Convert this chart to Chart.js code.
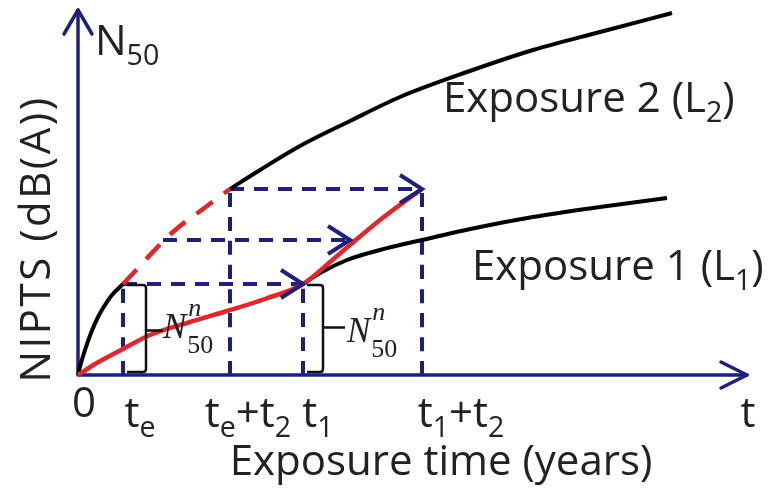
<!DOCTYPE html>
<html>
<head>
<meta charset="utf-8">
<script src="https://cdn.jsdelivr.net/npm/chart.js@4.4.1/dist/chart.umd.min.js"></script>
<style>
  html, body { margin: 0; background: #fff; }
  canvas { display: block; }
</style>
</head>
<body>
<canvas id="niptsChart" width="779" height="495"></canvas>
<script>
// Schematic values, axis units (origin at 0, 0)
const exposure2Early = [[0, 0], [3, 12], [7, 25], [13, 42], [20, 58], [27, 70], [34, 80], [45, 91]];
const exposure2Gap = [[45, 91], [95, 143], [125, 166], [152, 186]];
const exposure2 = [[152, 186], [182, 205], [222, 229], [272, 254], [322, 278], [389, 303], [455, 325], [522, 343], [594, 362]];
const exposure1 = [[225, 91], [242, 102], [269, 115], [302, 125], [344, 135], [402, 148], [455, 158], [522, 168], [589, 177]];
const combined = [[0, 0], [17, 11], [45, 26], [72, 40], [112, 53], [149, 64], [187, 76], [225, 91], [252, 113], [272, 130], [302, 155], [344, 186]];

// dashed guides
const guideX = [45, 152, 225, 344];
const guideTop = [91, 186, 91, 186];
const arrowY = [91, 135, 186];
const arrowFrom = [45, 85, 152];
const arrowTo = [225, 272, 344];

const tickValues = [0, 45, 152, 225, 344];
const tickLabels = ['0', 't_e', 't_e+t_2', 't_1', 't_1+t_2'];
const N50n = 91; // height of the bracketed step

const NAVY = '#1f1f7c';
const RED = '#e3262b';
const SANS = "'Open Sans', sans-serif";
const SERIF = "'Liberation Serif', serif";

const toXY = arr => arr.map(p => ({ x: p[0], y: p[1] }));

// text with _x / _{..} subscripts
function richText(ctx, str, x, y, size, align) {
  const parts = [];
  for (let i = 0; i < str.length; i++) {
    if (str[i] === '_') {
      let s = str[i + 1];
      if (s === '{') {
        const end = str.indexOf('}', i);
        s = str.slice(i + 2, end);
        i = end;
      } else i++;
      parts.push({ t: s, sub: true });
    } else {
      const last = parts[parts.length - 1];
      if (last && !last.sub) last.t += str[i];
      else parts.push({ t: str[i], sub: false });
    }
  }
  let w = 0;
  parts.forEach(p => {
    ctx.font = (p.sub ? size * 0.68 : size) + 'px ' + SANS;
    p.w = ctx.measureText(p.t).width;
    w += p.w;
  });
  let cx = align === 'center' ? x - w / 2 : x;
  ctx.textAlign = 'left';
  ctx.textBaseline = 'alphabetic';
  parts.forEach(p => {
    ctx.font = (p.sub ? size * 0.68 : size) + 'px ' + SANS;
    ctx.fillText(p.t, cx, p.sub ? y + size * 0.24 : y);
    cx += p.w;
  });
}

function chevron(ctx, tx, ty, dx, dy, back, half) {
  // dx,dy unit direction of arrow
  const nx = -dy, ny = dx;
  ctx.beginPath();
  ctx.moveTo(tx - dx * back + nx * half, ty - dy * back + ny * half);
  ctx.lineTo(tx, ty);
  ctx.lineTo(tx - dx * back - nx * half, ty - dy * back - ny * half);
  ctx.stroke();
}

function brace(ctx, x, top, bottom, mid, left, right) {
  ctx.beginPath();
  ctx.moveTo(left, top);
  ctx.lineTo(x - 3, top);
  ctx.quadraticCurveTo(x, top, x, top + 3);
  ctx.lineTo(x, bottom - 3);
  ctx.quadraticCurveTo(x, bottom, x - 3, bottom);
  ctx.lineTo(left, bottom);
  ctx.moveTo(x, mid);
  ctx.lineTo(right, mid);
  ctx.stroke();
}

function n50Label(ctx, x, base) {
  ctx.fillStyle = '#222';
  ctx.textAlign = 'left';
  ctx.textBaseline = 'alphabetic';
  ctx.font = 'italic 35px ' + SERIF;
  ctx.fillText('N', x, base);
  const nx = x + ctx.measureText('N').width + 1;
  ctx.font = 'italic 26px ' + SERIF;
  ctx.fillText('n', nx + 1, base - 22);
  ctx.font = '26px ' + SERIF;
  ctx.fillText('50', nx, base + 15);
}

const sketch = {
  id: 'sketch',
  beforeDatasetsDraw(chart) {
    const ctx = chart.ctx, xs = chart.scales.x, ys = chart.scales.y;
    const x0 = xs.getPixelForValue(0), y0 = ys.getPixelForValue(0);
    const xEnd = xs.getPixelForValue(669), yEnd = ys.getPixelForValue(365);
    ctx.save();
    ctx.strokeStyle = NAVY;
    ctx.lineWidth = 3.5;
    ctx.lineCap = 'round';
    ctx.lineJoin = 'round';
    ctx.beginPath();
    ctx.moveTo(x0, y0);
    ctx.lineTo(xEnd, y0);
    ctx.moveTo(x0, y0);
    ctx.lineTo(x0, yEnd);
    ctx.stroke();
    chevron(ctx, xEnd, y0, 1, 0, 26, 13);
    chevron(ctx, x0, yEnd, 0, -1, 24, 14);
    ctx.restore();
  },
  afterDatasetsDraw(chart) {
    const ctx = chart.ctx, xs = chart.scales.x, ys = chart.scales.y;
    const px = v => xs.getPixelForValue(v), py = v => ys.getPixelForValue(v);
    ctx.save();

    // arrow heads on the dashed guides
    ctx.strokeStyle = NAVY;
    ctx.lineWidth = 4;
    ctx.lineJoin = 'miter';
    ctx.lineCap = 'butt';
    arrowY.forEach((y, i) => chevron(ctx, px(arrowTo[i]), py(y), 1, 0, 22, 14));

    // brackets
    ctx.strokeStyle = '#111';
    ctx.lineWidth = 2.5;
    const b1 = px(45), b2 = px(225);
    brace(ctx, b1 + 23, py(N50n) + 1, py(0) - 3, py(N50n / 2) + 1, b1 + 4, b1 + 40);
    brace(ctx, b2 + 20, py(N50n) + 1, py(0) - 3, py(N50n / 2) - 2, b2 + 4, b2 + 42);
    n50Label(ctx, b1 + 40, 338);
    n50Label(ctx, b2 + 44, 342);

    // tick labels
    ctx.fillStyle = '#222';
    const nudge = [6, 17, 18, 15, 39];
    const lift = [10, 0, 0, 0, 0];
    tickValues.forEach((v, i) => {
      richText(ctx, tickLabels[i], px(v) + nudge[i], py(0) + 52 - lift[i], 42, 'center');
    });
    richText(ctx, 't', 748, py(0) + 52, 42, 'center');

    // axis titles
    richText(ctx, 'Exposure time (years)', 441, 475, 42, 'center');
    richText(ctx, 'N_{50}', 95, 55, 42, 'left');
    richText(ctx, 'Exposure 2 (L_2)', 443, 112, 42, 'left');
    richText(ctx, 'Exposure 1 (L_1)', 472, 280, 42, 'left');

    ctx.save();
    ctx.translate(50, 239);
    ctx.rotate(-Math.PI / 2);
    ctx.letterSpacing = '2.5px';
    ctx.font = '42px ' + SANS;
    ctx.textAlign = 'center';
    ctx.textBaseline = 'alphabetic';
    ctx.fillText('NIPTS (dB(A))', 0, 0);
    ctx.restore();

    ctx.restore();
  }
};

const curve = (data, color, width, dash) => ({
  data: toXY(data),
  showLine: true,
  borderColor: color,
  borderWidth: width,
  borderDash: dash || [],
  pointRadius: 0,
  cubicInterpolationMode: 'monotone',
  clip: false
});

const guides = [];
guideX.forEach((x, i) => guides.push(curve([[x, 0], [x, guideTop[i]]], NAVY, 4, [14, 10])));
arrowY.forEach((y, i) => guides.push(curve([[arrowFrom[i], y], [arrowTo[i], y]], NAVY, 4, [14, 10])));

new Chart(document.getElementById('niptsChart'), {
  type: 'scatter',
  data: {
    datasets: [
      curve(combined, RED, 4.5),
      curve(exposure2Early, '#000', 4),
      curve(exposure2Gap, RED, 4.5, [20, 14]),
      curve(exposure2, '#000', 4),
      curve(exposure1, '#000', 4),
      ...guides
    ]
  },
  options: {
    responsive: false,
    animation: false,
    events: [],
    layout: { padding: { left: 78, right: 29, top: 8, bottom: 120 } },
    plugins: { legend: { display: false }, tooltip: { enabled: false } },
    scales: {
      x: { type: 'linear', min: 0, max: 672, display: false },
      y: { type: 'linear', min: 0, max: 367, display: false }
    }
  },
  plugins: [sketch]
});
</script>
</body>
</html>
